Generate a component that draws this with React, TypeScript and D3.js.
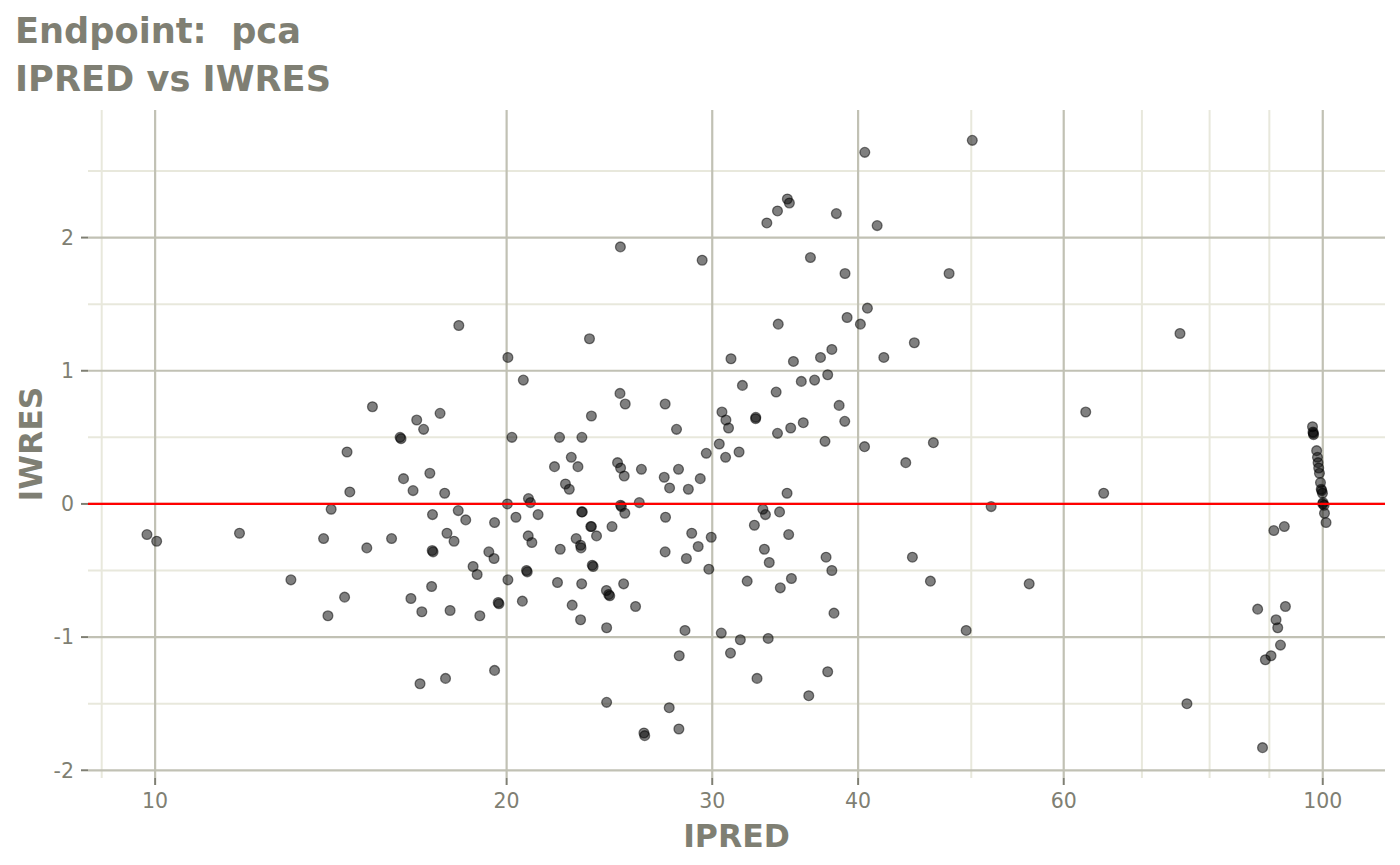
import React from "react";
import * as d3 from "d3";

const ipred: number[] = [
  9.84, 10.03, 11.81, 13.07, 13.94, 14.06, 14.15, 14.53, 14.6, 14.68,
  15.18, 15.35, 15.94, 16.24, 16.21, 16.32, 16.56, 16.63, 16.75, 16.86,
  16.92, 16.98, 17.19, 17.25, 17.28, 17.27, 17.3, 17.54, 17.7, 17.73,
  17.78, 17.89, 18.03, 18.18, 18.2, 18.45, 18.72, 18.87, 18.97, 19.31,
  19.51, 19.53, 19.53, 19.7, 19.67, 20.03, 20.05, 20.05, 20.21, 20.37,
  20.63, 20.67, 20.83, 20.8, 20.87, 20.88, 20.96, 21.02, 21.28, 21.98,
  22.11, 22.2, 22.23, 22.46, 22.63, 22.72, 22.76, 22.94, 23.02, 23.14,
  23.16, 23.14, 23.19, 23.2, 23.22, 23.19, 23.55, 23.64, 23.64, 23.61,
  23.72, 23.68, 23.88, 24.35, 24.36, 24.36, 24.51, 24.46, 24.62, 24.89,
  25.01, 25.03, 25.04, 25.08, 25.04, 25.19, 25.22, 25.25, 25.27, 25.79,
  25.98, 26.09, 26.22, 26.26, 27.29, 27.34, 27.34, 27.36, 27.56, 27.58,
  27.96, 28.07, 28.09, 28.11, 28.43, 28.51, 28.62, 28.81, 29.18, 29.3,
  29.41, 29.65, 29.8, 29.94, 30.42, 30.54, 30.58, 30.8, 30.82, 30.98,
  31.1, 31.13, 31.63, 31.71, 31.84, 32.14, 32.6, 32.69, 32.68, 32.77,
  33.15, 33.25, 33.32, 33.41, 33.57, 33.5, 34.03, 34.12, 34.12, 34.17,
  34.26, 34.31, 34.77, 34.79, 34.88, 34.93, 35.02, 35.07, 35.21, 35.76,
  35.9, 36.29, 36.41, 36.71, 37.14, 37.47, 37.55, 37.67, 37.67, 37.98,
  37.98, 38.14, 38.32, 38.53, 38.96, 38.98, 39.14, 40.18, 40.51, 40.53,
  40.74, 41.53, 42.08, 43.94, 44.52, 44.69, 46.13, 46.4, 47.86, 49.5,
  50.1, 52.0, 56.05, 62.66, 64.92, 75.46, 76.5, 87.95, 88.8, 89.3,
  90.3, 90.8, 91.2, 91.5, 92.0, 92.7, 92.9, 98.0, 98.1, 98.2,
  98.15, 98.8, 98.96, 99.08, 99.2, 99.35, 99.55, 99.8, 99.7, 99.94,
  100.06, 100.0, 100.26, 100.34, 100.65,
];

const iwres: number[] = [
  -0.23, -0.28, -0.22, -0.57, -0.26, -0.84, -0.04, -0.7, 0.39, 0.09,
  -0.33, 0.73, -0.26, 0.49, 0.5, 0.19, -0.71, 0.1, 0.63, -1.35,
  -0.81, 0.56, 0.23, -0.62, -0.08, -0.35, -0.36, 0.68, 0.08, -1.31,
  -0.22, -0.8, -0.28, -0.05, 1.34, -0.12, -0.47, -0.53, -0.84, -0.36,
  -0.41, -0.14, -1.25, -0.75, -0.74, 0.0, 1.1, -0.57, 0.5, -0.1,
  -0.73, 0.93, -0.51, -0.5, -0.24, 0.04, 0.01, -0.29, -0.08, 0.28,
  -0.59, 0.5, -0.34, 0.15, 0.11, 0.35, -0.76, -0.26, 0.28, -0.31,
  -0.33, -0.87, -0.6, 0.5, -0.06, -0.06, 1.24, 0.66, -0.17, -0.17,
  -0.47, -0.46, -0.24, -0.65, -0.93, -1.49, -0.69, -0.68, -0.17, 0.31,
  0.83, 1.93, 0.27, -0.02, -0.01, -0.6, 0.21, -0.07, 0.75, -0.77,
  0.01, 0.26, -1.72, -1.74, 0.2, 0.75, -0.36, -0.1, -1.53, 0.12,
  0.56, 0.26, -1.69, -1.14, -0.95, -0.41, 0.11, -0.22, -0.32, 0.19,
  1.83, 0.38, -0.49, -0.25, 0.45, -0.97, 0.69, 0.35, 0.63, 0.57,
  -1.12, 1.09, 0.39, -1.02, 0.89, -0.58, -0.16, 0.65, 0.64, -1.31,
  -0.04, -0.34, -0.08, 2.11, -0.44, -1.01, 0.84, 0.53, 2.2, 1.35,
  -0.06, -0.63, 0.08, 2.29, -0.23, 2.26, 0.57, -0.56, 1.07, 0.92,
  0.61, -1.44, 1.85, 0.93, 1.1, 0.47, -0.4, 0.97, -1.26, 1.16,
  -0.5, -0.82, 2.18, 0.74, 0.62, 1.73, 1.4, 1.35, 0.43, 2.64,
  1.47, 2.09, 1.1, 0.31, -0.4, 1.21, -0.58, 0.46, 1.73, -0.95,
  2.73, -0.02, -0.6, 0.69, 0.08, 1.28, -1.5, -0.79, -1.83, -1.17,
  -1.14, -0.2, -0.87, -0.93, -1.06, -0.17, -0.77, 0.58, 0.54, 0.52,
  0.53, 0.4, 0.35, 0.31, 0.27, 0.23, 0.16, 0.1, 0.11, 0.08,
  0.01, 0.0, -0.01, -0.07, -0.14,
];

const xMajor: number[] = [10, 20, 30, 40, 60, 100];
const xMinor: number[] = [9, 50, 70, 80, 90];
const yMajor: number[] = [-2, -1, 0, 1, 2];
const yMinor: number[] = [-1.5, -0.5, 0.5, 1.5, 2.5];

const titleLines: string[] = ["Endpoint:  pca", "IPRED vs IWRES"];
const xTitle = "IPRED";
const yTitle = "IWRES";

const W = 1400;
const H = 865;
const panel = { left: 88, right: 1385, top: 110, bottom: 778 };
const textCol = "#7f7f73";
const majorCol = "#c1c1b4";
const minorCol = "#e8e8dc";
const FONT = "'DejaVu Sans', sans-serif";

export default function App() {
  const [xmin, xmax] = d3.extent(ipred) as [number, number];
  const lx0 = Math.log10(xmin);
  const lx1 = Math.log10(xmax);
  const ex = (lx1 - lx0) * 0.05;
  const x = d3
    .scaleLog()
    .domain([Math.pow(10, lx0 - ex), Math.pow(10, lx1 + ex)])
    .range([panel.left, panel.right]);
  const [ymin, ymax] = d3.extent(iwres) as [number, number];
  const ey = (ymax - ymin) * 0.05;
  const y = d3
    .scaleLinear()
    .domain([ymin - ey, ymax + ey])
    .range([panel.bottom, panel.top]);

  const pts = ipred.map((v, i) => [v, iwres[i]] as [number, number]);

  return (
    <svg
      width={W}
      height={H}
      style={{ position: "absolute", left: 0, top: 0, background: "#fff" }}
      fontFamily={FONT}
    >
      <rect x={0} y={0} width={W} height={H} fill="#ffffff" />
      {yMinor.map((v) => (
        <line key={"ym" + v} x1={panel.left} x2={panel.right} y1={y(v)} y2={y(v)} stroke={minorCol} strokeWidth={2} />
      ))}
      {xMinor.map((v) => (
        <line key={"xm" + v} x1={x(v)} x2={x(v)} y1={panel.top} y2={panel.bottom} stroke={minorCol} strokeWidth={2} />
      ))}
      {yMajor.map((v) => (
        <line key={"yM" + v} x1={panel.left} x2={panel.right} y1={y(v)} y2={y(v)} stroke={majorCol} strokeWidth={2.2} />
      ))}
      {xMajor.map((v) => (
        <line key={"xM" + v} x1={x(v)} x2={x(v)} y1={panel.top} y2={panel.bottom} stroke={majorCol} strokeWidth={2.2} />
      ))}
      {pts.map(([a, b], i) => (
        <circle
          key={i}
          cx={x(a)}
          cy={y(b)}
          r={4.9}
          fill="#000"
          fillOpacity={0.5}
          stroke="#000"
          strokeOpacity={0.5}
          strokeWidth={1.3}
        />
      ))}
      <line x1={panel.left} x2={panel.right} y1={y(0)} y2={y(0)} stroke="#ff0000" strokeWidth={2.2} />
      {yMajor.map((v) => (
        <g key={"yt" + v}>
          <line x1={panel.left - 7} x2={panel.left} y1={y(v)} y2={y(v)} stroke={textCol} strokeWidth={2} />
          <text x={panel.left - 14} y={y(v)} dy="0.36em" textAnchor="end" fontSize={20.5} fill={textCol}>
            {v}
          </text>
        </g>
      ))}
      {xMajor.map((v) => (
        <g key={"xt" + v}>
          <line x1={x(v)} x2={x(v)} y1={panel.bottom} y2={panel.bottom + 7} stroke={textCol} strokeWidth={2} />
          <text x={x(v)} y={807.5} textAnchor="middle" fontSize={20.5} fill={textCol}>
            {v}
          </text>
        </g>
      ))}
      {titleLines.map((t, i) => (
        <text key={t} x={15} y={43 + i * 48} fontSize={35.2} fontWeight="bold" fill={textCol} style={{ whiteSpace: "pre" }}>
          {t}
        </text>
      ))}
      <text x={(panel.left + panel.right) / 2} y={847} textAnchor="middle" fontSize={31.5} fontWeight="bold" fill={textCol}>
        {xTitle}
      </text>
      <text
        transform={`translate(42, ${(panel.top + panel.bottom) / 2}) rotate(-90)`}
        textAnchor="middle"
        fontSize={31.5}
        fontWeight="bold"
        fill={textCol}
      >
        {yTitle}
      </text>
    </svg>
  );
}
